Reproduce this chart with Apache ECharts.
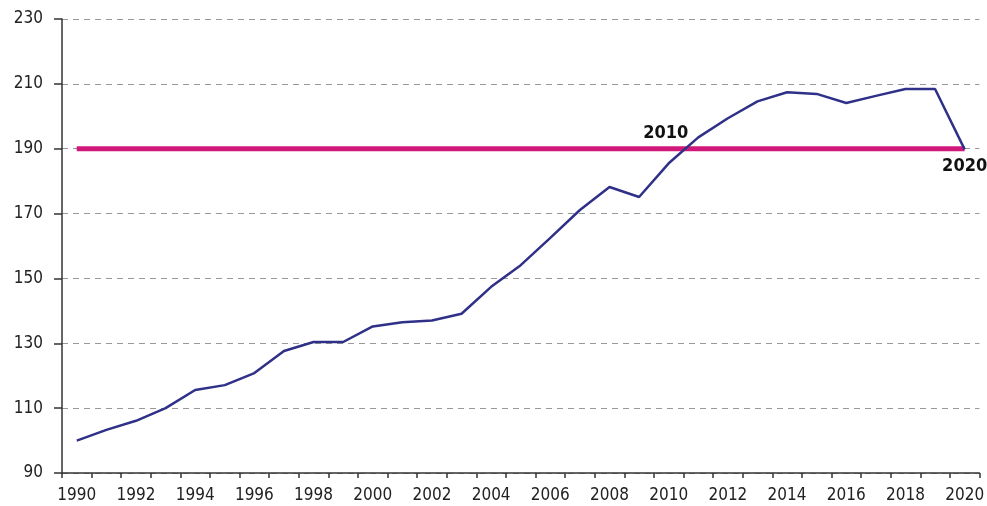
<!DOCTYPE html>
<html>
<head>
<meta charset="utf-8">
<script src="https://cdn.jsdelivr.net/npm/echarts@6/dist/echarts.min.js"></script>
<style>
html,body{margin:0;padding:0;background:#fff;overflow:hidden;}
#chart{width:987px;height:506px;}
</style>
</head>
<body>
<div id="chart"></div>
<script>
var years = ['1990','1991','1992','1993','1994','1995','1996','1997','1998','1999','2000','2001','2002','2003','2004','2005','2006','2007','2008','2009','2010','2011','2012','2013','2014','2015','2016','2017','2018','2019','2020'];
var indexValues = [100, 103.3, 106.1, 110, 115.6, 117.1, 120.8, 127.6, 130.4, 130.4, 135.2, 136.5, 137.0, 139.1, 147.4, 154.1, 162.5, 171.1, 178.2, 175.1, 185.5, 193.5, 199.4, 204.6, 207.4, 206.9, 204.1, 206.3, 208.4, 208.4, 189.8];
var referenceLevel = 190;
var labelTop = '2010';
var labelBottom = '2020';
var yTicks = [90, 110, 130, 150, 170, 190, 210, 230];

var FONT = "'DejaVu Sans Condensed', 'Liberation Sans Narrow', sans-serif";

var refData = years.map(function (y) {
  if (y === labelTop) {
    return {value: referenceLevel, label: {show: true, position: 'top', distance: 6, offset: [-3, 0], formatter: y}};
  }
  if (y === labelBottom) {
    return {value: referenceLevel, label: {show: true, position: 'bottom', distance: 8, offset: [0, 0], formatter: y}};
  }
  return referenceLevel;
});

var chart = echarts.init(document.getElementById('chart'), null, {renderer: 'canvas'});
chart.setOption({
  animation: false,
  backgroundColor: '#ffffff',
  grid: {left: 62, right: 1, top: 19, bottom: 33, containLabel: false},
  xAxis: {
    type: 'category',
    data: years,
    boundaryGap: true,
    axisLine: {show: true, lineStyle: {color: '#333', width: 1.5}},
    axisTick: {show: true, interval: 0, length: 5, lineStyle: {color: '#333', width: 1.5}},
    axisLabel: {interval: 1, color: '#222', fontFamily: FONT, fontSize: 17, margin: 14},
    splitLine: {show: false}
  },
  yAxis: {
    type: 'value',
    min: yTicks[0],
    max: yTicks[yTicks.length - 1],
    interval: 20,
    axisLine: {show: true, lineStyle: {color: '#333', width: 1.5}},
    axisTick: {show: true, length: 8, lineStyle: {color: '#333', width: 1.5}},
    axisLabel: {color: '#222', fontFamily: FONT, fontSize: 17, margin: 19},
    splitLine: {show: true, lineStyle: {color: '#999', type: [6, 5], width: 1}}
  },
  series: [
    {
      type: 'line',
      data: refData,
      symbol: 'circle',
      symbolSize: 1,
      showSymbol: true,
      itemStyle: {color: '#d0187a'},
      lineStyle: {color: '#d0187a', width: 5},
      label: {show: false, color: '#111', fontFamily: FONT, fontSize: 18, fontWeight: 'bold'},
      z: 2
    },
    {
      type: 'line',
      data: indexValues,
      symbol: 'none',
      lineStyle: {color: '#2f3088', width: 2.5},
      z: 3
    }
  ]
});
</script>
</body>
</html>
